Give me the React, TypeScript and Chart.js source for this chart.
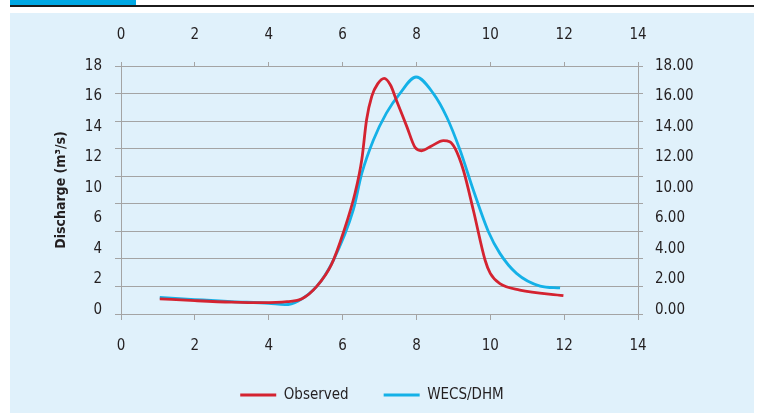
import React, { useEffect, useRef } from "react";
import { Chart, registerables } from "chart.js";

Chart.register(...registerables);

// ---- data ----
const observedX = [1.05, 2, 3, 3.8, 4.5, 4.9, 5.3, 5.7, 6.02, 6.34, 6.52, 6.65, 6.79, 6.95, 7.13, 7.3, 7.46, 7.74, 7.96, 8.14, 8.41, 8.73, 8.9, 9.05, 9.27, 9.54, 9.86, 10.0, 10.26, 10.8, 11.98];
const observedY = [1.1, 0.97, 0.86, 0.82, 0.9, 1.1, 2.0, 3.6, 5.9, 8.8, 11.2, 14.1, 15.8, 16.7, 17.1, 16.6, 15.5, 13.6, 12.1, 11.85, 12.2, 12.58, 12.5, 12.0, 10.45, 7.55, 3.9, 2.95, 2.2, 1.74, 1.33];

const modelX = [1.05, 2, 3, 4, 4.44, 4.8, 5.3, 5.75, 6.29, 6.52, 6.83, 7.19, 7.55, 7.99, 8.46, 8.82, 9.18, 9.54, 9.95, 10.26, 10.71, 11.35, 11.89];
const modelY = [1.2, 1.05, 0.9, 0.78, 0.68, 0.95, 2.0, 3.9, 7.55, 10.2, 12.6, 14.6, 16.0, 17.2, 16.0, 14.3, 11.9, 9.0, 5.97, 4.4, 2.95, 2.03, 1.89];

const seriesNames = ["Observed", "WECS/DHM"];
const leftTickLabels = ["0", "2", "4", "6", "10", "12", "14", "16", "18"];
const rightTickLabels = ["0.00", "2.00", "4.00", "6.00", "10.00", "12.00", "14.00", "16.00", "18.00"];
const yAxisTitle = "Discharge (m\u00B3/s)";

const FONT = "'Liberation Sans Narrow', 'DejaVu Sans Condensed', 'Arial Narrow', sans-serif";
const GRID = "#a4a4a4";
const TEXT = "#231f20";
const RED = "#d42330";
const BLUE = "#14b1e7";

export default function App() {
  const ref = useRef<HTMLCanvasElement | null>(null);

  useEffect(() => {
    if (!ref.current) return;
    const tickFont = { family: FONT, size: 15 };
    const labelTicks = (labels: string[]) => (s: any) => {
      s.ticks = labels.map((_, i) => ({ value: i }));
    };
    const chart = new Chart(ref.current, {
      type: "line",
      data: {
        datasets: [
          {
            label: seriesNames[0],
            data: observedX.map((x, i) => ({ x, y: observedY[i] })),
            borderColor: RED,
            backgroundColor: RED,
            borderWidth: 2.8,
            pointRadius: 0,
            cubicInterpolationMode: "monotone",
            xAxisID: "x",
            yAxisID: "y",
          },
          {
            label: seriesNames[1],
            data: modelX.map((x, i) => ({ x, y: modelY[i] })),
            borderColor: BLUE,
            backgroundColor: BLUE,
            borderWidth: 2.8,
            pointRadius: 0,
            cubicInterpolationMode: "monotone",
            xAxisID: "x",
            yAxisID: "y",
          },
        ],
      },
      options: {
        animation: false,
        responsive: false,
        maintainAspectRatio: false,
        devicePixelRatio: 1,
        layout: { padding: { left: 0, right: 20, top: 0, bottom: 0.5 } },
        plugins: {
          tooltip: { enabled: false },
          legend: {
            position: "bottom",
            labels: {
              boxWidth: 36,
              boxHeight: 3,
              padding: 35,
              color: TEXT,
              font: tickFont,
              generateLabels: (c: any) =>
                c.data.datasets.map((ds: any, i: number) => ({
                  text: ds.label,
                  fillStyle: ds.borderColor,
                  strokeStyle: ds.borderColor,
                  lineWidth: 0,
                  hidden: false,
                  datasetIndex: i,
                  fontColor: TEXT,
                })),
            },
          },
        },
        scales: {
          xTop: {
            type: "linear",
            position: "top",
            min: 0,
            max: 14,
            ticks: { stepSize: 2, padding: 18, color: TEXT, font: tickFont, maxRotation: 0 },
            grid: { drawOnChartArea: false, drawTicks: true, tickLength: 4, color: GRID },
            border: { display: false },
            afterFit: (s: any) => { s.height = 53; },
          },
          x: {
            type: "linear",
            position: "bottom",
            min: 0,
            max: 14,
            ticks: { stepSize: 2, padding: 17, color: TEXT, font: tickFont, maxRotation: 0 },
            grid: { drawOnChartArea: false, drawTicks: true, tickLength: 6, color: GRID },
            border: { display: false },
            afterFit: (s: any) => { s.height = 38.5; },
          },
          y: {
            type: "linear",
            position: "left",
            weight: 0,
            min: 0,
            max: 18,
            ticks: { stepSize: 2, display: false },
            grid: { color: GRID, lineWidth: 1, drawTicks: true, tickLength: 6 },
            border: { display: true, color: GRID, width: 1 },
            afterFit: (s: any) => { s.width = 6; },
          },
          yLabels: {
            type: "linear",
            position: "left",
            weight: 1,
            min: -0.13,
            max: 8,
            afterBuildTicks: labelTicks(leftTickLabels),
            ticks: {
              padding: 13,
              color: TEXT,
              font: tickFont,
              callback: (_v: any, i: number) => leftTickLabels[i],
            },
            grid: { display: false, drawTicks: false },
            border: { display: false },
            title: {
              display: true,
              text: yAxisTitle,
              color: TEXT,
              font: { family: FONT, size: 14, weight: "bold" },
              padding: { top: 43, bottom: 0 },
            },
            afterFit: (s: any) => { s.width = 105; },
          },
          yR: {
            type: "linear",
            position: "right",
            weight: 0,
            min: 0,
            max: 18,
            ticks: { stepSize: 2, display: false },
            grid: { drawOnChartArea: false, color: GRID, drawTicks: true, tickLength: 5 },
            border: { display: true, color: GRID, width: 1 },
            afterFit: (s: any) => { s.width = 6; },
          },
          yRLabels: {
            type: "linear",
            position: "right",
            weight: 1,
            min: -0.13,
            max: 8,
            afterBuildTicks: labelTicks(rightTickLabels),
            ticks: {
              padding: 11,
              color: TEXT,
              font: tickFont,
              callback: (_v: any, i: number) => rightTickLabels[i],
            },
            grid: { display: false, drawTicks: false },
            border: { display: false },
            afterFit: (s: any) => { s.width = 90; },
          },
        },
      } as any,
    });
    return () => chart.destroy();
  }, []);

  return (
    <div style={{ position: "absolute", left: 0, top: 0, width: 757, height: 418, background: "#ffffff", overflow: "hidden" }}>
      <div style={{ position: "absolute", left: 10, top: 0, width: 126, height: 5, background: "#00a8e4" }} />
      <div style={{ position: "absolute", left: 10, top: 5, width: 744, height: 2, background: "#1b1b1b" }} />
      <div style={{ position: "absolute", left: 10, top: 13, width: 744, height: 400, background: "#e0f1fb" }}>
        <canvas ref={ref} width={744} height={400} style={{ display: "block", width: 744, height: 400 }} />
      </div>
    </div>
  );
}
